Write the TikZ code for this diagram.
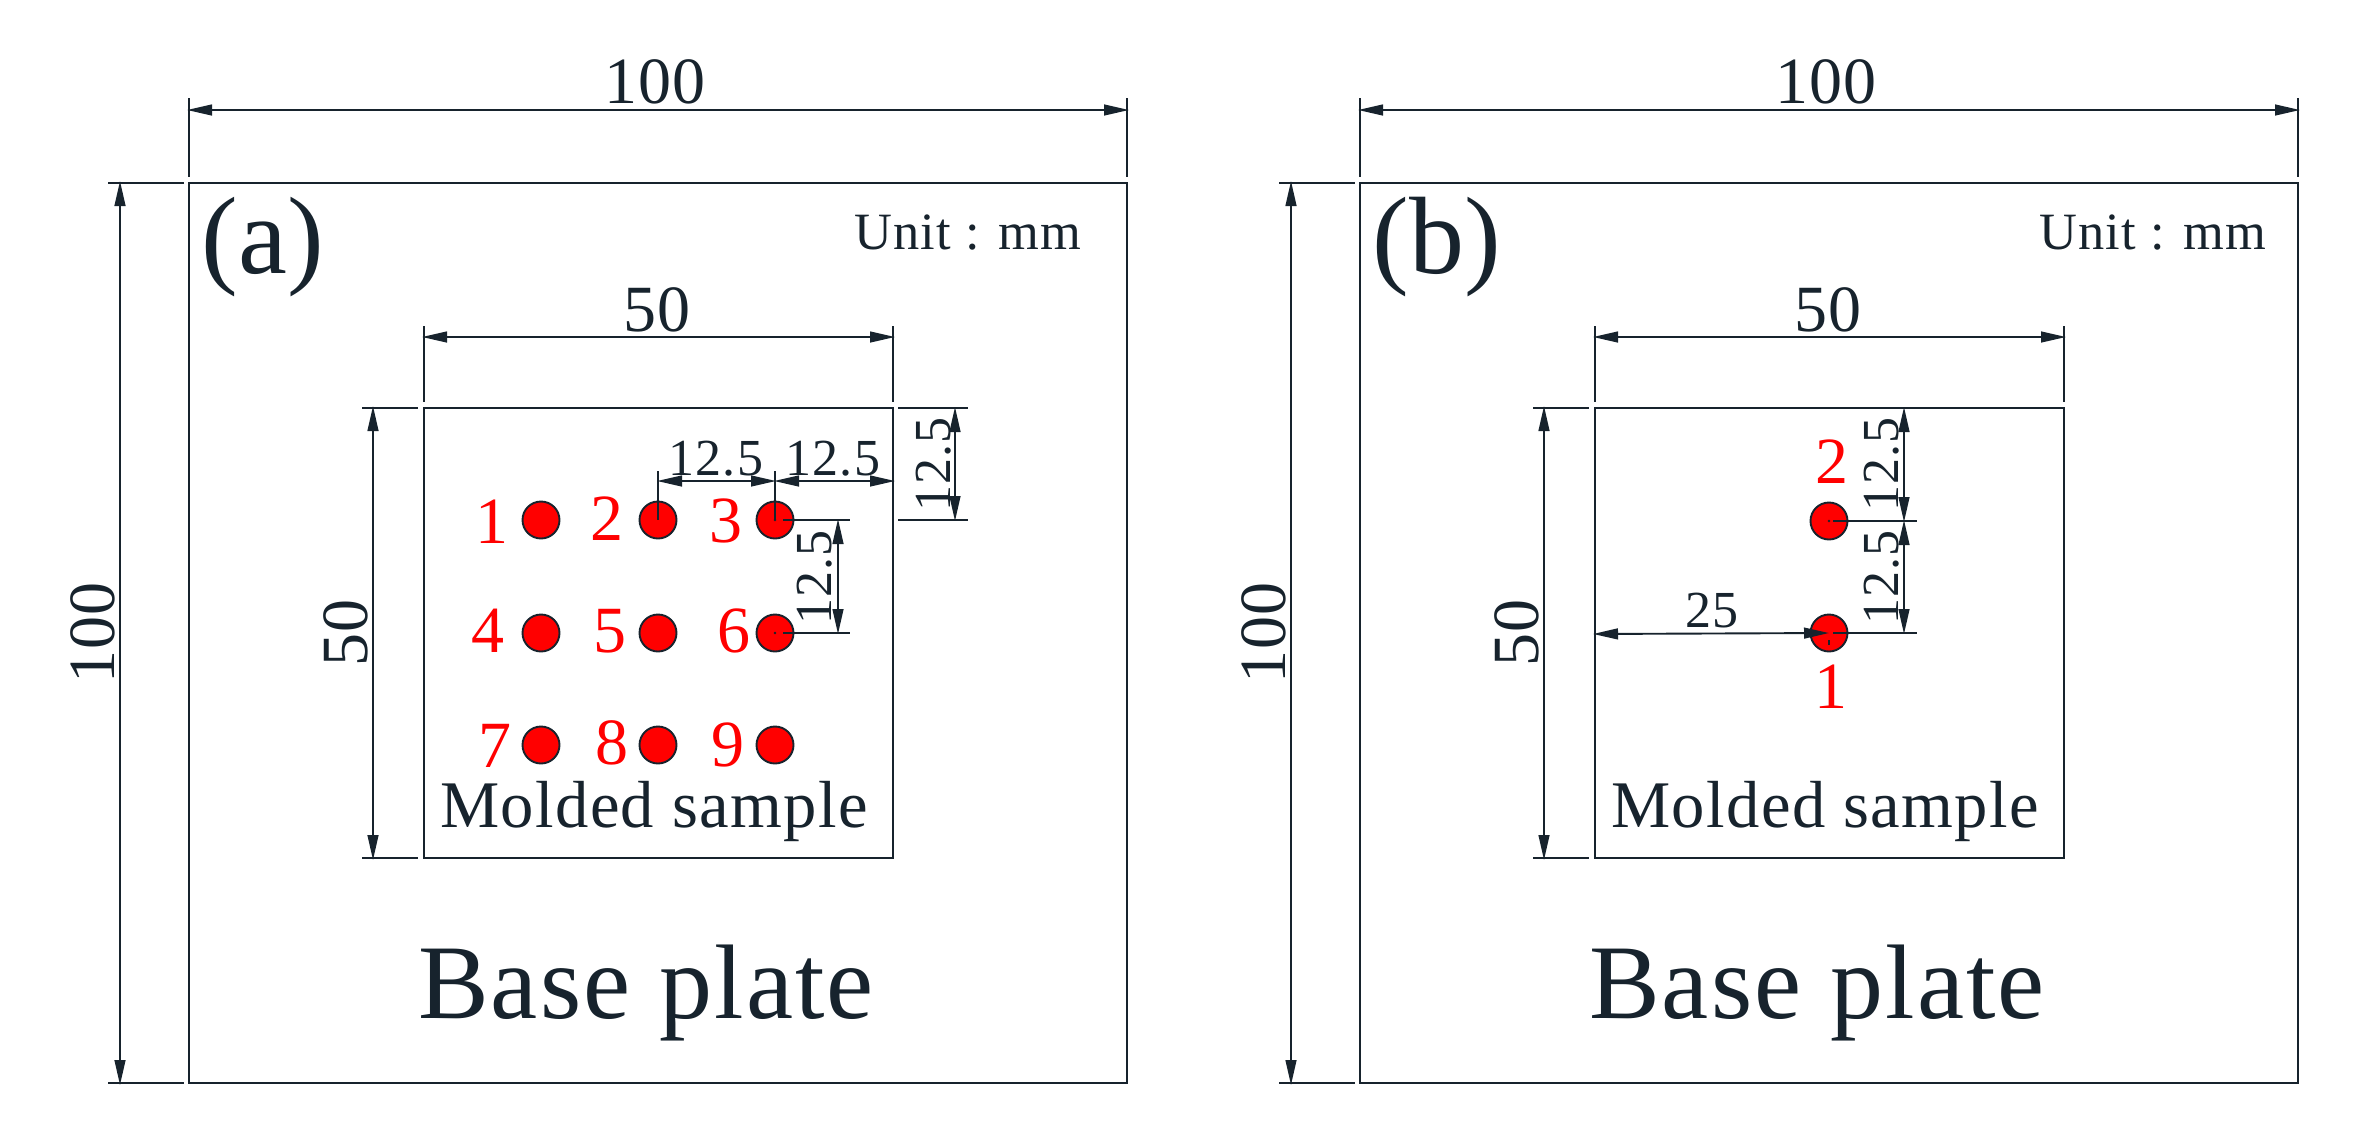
\documentclass[tikz,border=0pt]{standalone}
\usepackage{fontspec}
\setmainfont{Liberation Serif}
\newfontfamily\spacedfont[LetterSpace=2]{Liberation Serif}
\usetikzlibrary{arrows.meta}
\definecolor{ink}{HTML}{17232D}
\newcommand\szA{\fontsize{26pt}{30pt}\spacedfont}
\newcommand\szB{\fontsize{33pt}{38pt}\spacedfont}
\newcommand\szC{\fontsize{26.2pt}{32pt}\spacedfont}
\newcommand\szD{\fontsize{53pt}{60pt}\spacedfont}
\newcommand\szE{\fontsize{55pt}{62pt}\selectfont}
\newcommand\szF{\fontsize{33.3pt}{38pt}\spacedfont}
\tikzset{
  ink line/.style={draw=ink,line width=0.95pt},
  dimarr/.style={ink line,{Triangle[length=12.5pt,width=5.4pt]}-{Triangle[length=12.5pt,width=5.4pt]}},
  extl/.style={ink line},
  txt/.style={inner sep=0pt,outer sep=0pt,anchor=base,text=ink},
  small dim/.style={txt,font=\szA},
  big dim/.style={txt,font=\szB},
  unit lab/.style={txt,font=\szC},
  title lab/.style={txt,font=\szD},
  sample lab/.style={txt,font=\szF},
  panel lab/.style={txt,font=\szE},
  red lab/.style={inner sep=0pt,outer sep=0pt,anchor=base,text=red,font=\fontsize{33pt}{38pt}\selectfont},
  hole/.style={circle,draw=ink,fill=red,line width=0.95pt,minimum size=18.5pt,inner sep=0pt,outer sep=0pt},
}
\newcommand\dimseg[5]{\coordinate (#1s) at (#2,#3); \coordinate (#1e) at (#4,#5); \draw[dimarr] (#1s) -- (#1e);}
\newcommand\extseg[5]{\coordinate (#1s) at (#2,#3); \coordinate (#1e) at (#4,#5); \draw[extl] (#1s) -- (#1e);}
% everything shared by both panels, in the coordinates of panel (a)
% #1 = x of the panel letter, #2 = panel letter, #3 = x of the unit note
\newcommand\panelcommon[3]{%
  \coordinate (o1) at (189,183); \coordinate (o2) at (1127,1083);
  \draw[ink line] (o1) rectangle (o2);
  \coordinate (i1) at (424,408); \coordinate (i2) at (893,858);
  \draw[ink line] (i1) rectangle (i2);
  \extseg{xa}{189}{98}{189}{177}
  \extseg{xb}{1127}{98}{1127}{177}
  \extseg{xc}{108}{183}{184}{183}
  \extseg{xd}{108}{1083}{184}{1083}
  \dimseg{da}{187}{110}{1129}{110}
  \dimseg{db}{120}{181}{120}{1085}
  \extseg{xe}{424}{326}{424}{402}
  \extseg{xf}{893}{326}{893}{402}
  \extseg{xg}{362}{408}{418}{408}
  \extseg{xh}{362}{858}{418}{858}
  \dimseg{dc}{422}{337}{895}{337}
  \dimseg{dd}{373}{406}{373}{860}
  \node[big dim] (t100a) at (655,103) {100};
  \node[big dim,rotate=90] (t100b) at (114,633) {100};
  \node[big dim] (t50a) at (657,331) {50};
  \node[big dim,rotate=90] (t50b) at (367,633) {50};
  \node[panel lab] (lab) at (#1,273) {(#2)};
  \node[title lab] (tbase) at (646,1018) {Base plate};
  \node[sample lab] (tmold) at (654,827) {Molded sample};
  \node[unit lab] (tunit) at (#3,249) {Unit : mm};
}
\begin{document}
\begin{tikzpicture}[x=0.5pt,y=-0.5pt]
\useasboundingbox (0,0) rectangle (2374,1136);
\fill[white] (0,0) rectangle (2374,1136);

% ---------- panel (a)
\begin{scope}[name prefix=a-]
  \panelcommon{263}{a}{968}
  \node[hole] (c1) at (541,520) {};
  \node[hole] (c2) at (658,520) {};
  \node[hole] (c3) at (775,520) {};
  \node[hole] (c4) at (541,633) {};
  \node[hole] (c5) at (658,633) {};
  \node[hole] (c6) at (775,633) {};
  \node[hole] (c7) at (541,745) {};
  \node[hole] (c8) at (658,745) {};
  \node[hole] (c9) at (775,745) {};
  \node[red lab] (n1) at (492,543) {1};
  \node[red lab] (n2) at (607,540) {2};
  \node[red lab] (n3) at (726,542) {3};
  \node[red lab] (n4) at (488,652) {4};
  \node[red lab] (n5) at (610,652) {5};
  \node[red lab] (n6) at (734,652) {6};
  \node[red lab] (n7) at (495,767) {7};
  \node[red lab] (n8) at (612,764) {8};
  \node[red lab] (n9) at (728,766) {9};
  % horizontal 12.5 pair
  \coordinate (p2) at (658,471); \coordinate (p3) at (775,471);
  \draw[extl] (p2) -- (c2.center);
  \draw[extl] (p3) -- (c3.center);
  \dimseg{dh1}{657}{481}{776}{481}
  \dimseg{dh2}{774}{481}{895}{481}
  \node[small dim] (th1) at (716,475) {12.5};
  \node[small dim] (th2) at (833,475) {12.5};
  % right 12.5
  \extseg{xi}{898}{408}{968}{408}
  \extseg{xj}{898}{520}{968}{520}
  \dimseg{dv1}{955}{407}{955}{521}
  \node[small dim,rotate=90] (tv1) at (950,464) {12.5};
  % middle 12.5
  \extseg{xk}{783}{520}{850}{520}
  \extseg{xl}{783}{633}{850}{633}
  \dimseg{dv2}{838}{519}{838}{634}
  \node[small dim,rotate=90] (tv2) at (831,577) {12.5};
  \fill[ink] (c6.center) circle (1.3);
  \fill[ink] (c3.center) circle (1.3);
\end{scope}

% ---------- panel (b)
\begin{scope}[name prefix=b-,xshift=585.5pt]
  \panelcommon{266}{b}{982}
  \node[hole] (c1) at (658,633) {};
  \node[hole] (c2) at (658,521) {};
  \node[red lab] (n1) at (660,708) {1};
  \node[red lab] (n2) at (661,483) {2};
  \extseg{xk}{662}{521}{746}{521}
  \extseg{xl}{662}{633}{746}{633}
  \dimseg{dv1}{733}{407}{733}{522}
  \dimseg{dv2}{733}{520}{733}{634}
  \node[small dim,rotate=90] (tv1) at (727,464) {12.5};
  \node[small dim,rotate=90] (tv2) at (727,577) {12.5};
  \coordinate (p25) at (422,634);
  \draw[dimarr] (p25) -- (c1.center);
  \node[small dim] (t25) at (541,627) {25};
  \coordinate (q1) at (658,640); \coordinate (q2) at (658,645);
  \draw[extl] (q1) -- (q2);
  \fill[ink] (c2.center) circle (1.3);
\end{scope}
\end{tikzpicture}
\end{document}
